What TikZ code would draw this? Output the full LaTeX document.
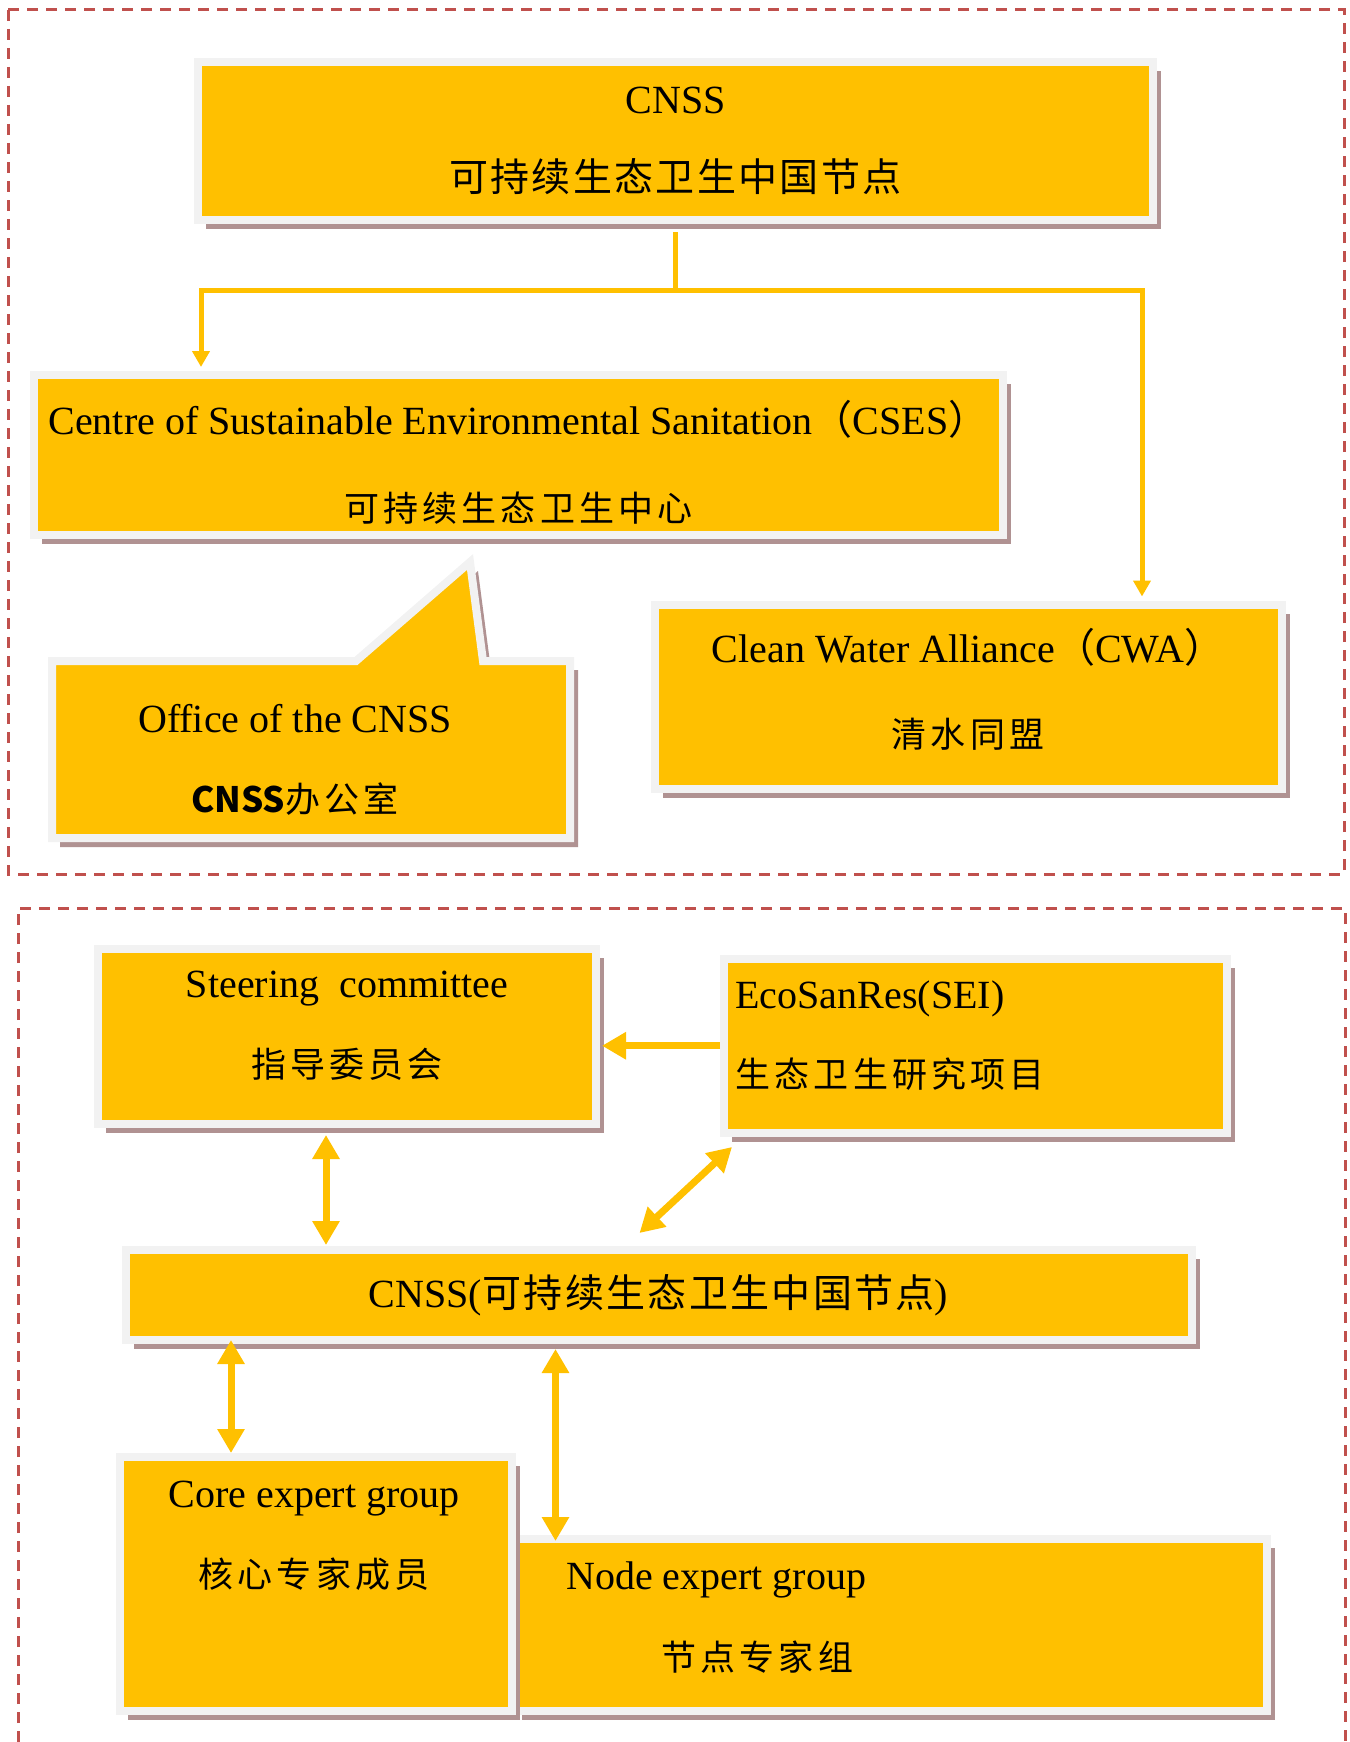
\documentclass[tikz,border=0pt]{standalone}
\usepackage{fontspec}
\setmainfont{Liberation Serif}
\newfontfamily\cjk{Noto Sans CJK SC}
\newfontfamily\cjkwide{Noto Sans CJK SC}[LetterSpace=12]
\newfontfamily\cjkbig{Noto Sans CJK SC}[LetterSpace=6]
\usetikzlibrary{arrows.meta,shadows,calc}
\definecolor{boxorange}{HTML}{FFC000}
\definecolor{boxrim}{HTML}{F2F2F2}
\definecolor{boxshadow}{RGB}{176,146,146}
\definecolor{framered}{HTML}{C0504D}
\newcommand{\zh}[1]{{\cjkwide\fontsize{35pt}{40pt}\selectfont #1}}
\newcommand{\zhbig}[1]{{\cjkbig\fontsize{39pt}{42pt}\selectfont #1}}
\newcommand{\padabove}[1]{\rule{0pt}{#1}}
\newcommand{\padbelow}[1]{\rule[-#1]{0pt}{#1}}
\begin{document}
\begin{tikzpicture}[x=1pt,y=-1pt,
  box/.style={fill=boxorange,draw=boxrim,line width=8pt,inner sep=0pt,align=center,
    font=\fontsize{40pt}{46pt}\selectfont,
    drop shadow={shadow xshift=8pt,shadow yshift=-9pt,fill=boxshadow,opacity=1}},
  txt/.style={inner sep=0pt,align=center,font=\fontsize{40pt}{46pt}\selectfont},
  trunk/.style={draw=boxorange,line width=5pt},
  link/.style={trunk,-{Triangle[length=16pt,width=17pt]}},
  fat/.style={draw=boxorange,line width=7pt},
  oneway/.style={fat,-{Triangle[length=24pt,width=26pt]}},
  duplex/.style={fat,{Triangle[length=24pt,width=26pt]}-{Triangle[length=24pt,width=26pt]}},
  frame/.style={draw=framered,line width=3pt,dash pattern=on 11pt off 8pt}]
	\useasboundingbox (0,0) rectangle (1349,1742);
	\draw[frame] (8,10) rectangle (1344,874);
	\draw[frame] (18,1742) -- (18,908) -- (1345,908) -- (1345,1742);

	\node[box,minimum width=955pt,minimum height=158pt] (cnss) at (675.5,141) {CNSS\\[32pt]\zhbig{可持续生态卫生中国节点}};
	\node[box,minimum width=969pt,minimum height=160pt] (cses) at (518.5,455) {\padabove{48pt}Centre of Sustainable Environmental Sanitation{\cjk （}CSES{\cjk ）}\\[41pt]\zh{可持续生态卫生中心}};
	\node[box,minimum width=627pt,minimum height=184pt] (cwa) at (968,696.5) {Clean Water Alliance{\cjk （}CWA{\cjk ）}\\[39.5pt]\zh{清水同盟}\padbelow{17pt}};
	\path[box] (52,661) -- (356,661) -- (470,562) -- (483,661) -- (570,661) -- (570,838) -- (52,838) -- cycle;
	\node[txt] (office) at (295,760) {Office of the CNSS\\[34pt]{\cjk\bfseries\fontsize{35pt}{40pt}\selectfont CNSS}\zh{办公室}};

	\draw[trunk] ([yshift=-8pt]cnss.south) -- ++(0,58) coordinate (fork);
	\draw[link] (fork) -| ([xshift=171pt,yshift=4pt]cses.north west);
	\draw[link] (fork) -| ([xshift=174pt,yshift=4pt]cwa.north);

	\node[box,minimum width=498pt,minimum height=175pt] (steer) at (347,1036.5) {Steering\ \ committee\\[34pt]\zh{指导委员会}\padbelow{24pt}};
	\node[box,minimum width=503pt,minimum height=174.5pt,text width=480pt,align=left] (eco) at (975.5,1045.75) {EcoSanRes(SEI)\\[33pt]\zh{生态卫生研究项目}\padbelow{23pt}};
	\node[box,minimum width=1066pt,minimum height=90pt] (cnss2) at (658.5,1295) {CNSS(\zhbig{可持续生态卫生中国节点})};
	\node[box,minimum width=753pt,minimum height=172pt] (nodegrp) at (890.5,1625) {};
	\node[box,minimum width=392pt,minimum height=254pt] (coregrp) at (316,1584) {};
	\node[txt] (coretxt) at (314,1536) {Core expert group\\[34pt]\zh{核心专家成员}};
	\node[txt,align=left,anchor=west] (nodetxt) at (566,1618) {Node expert group\\[35pt]\hspace*{95pt}\zh{节点专家组}};

	\draw[oneway] (eco.west) -- ($(eco.west -| steer.east)+(2,0)$);
	\draw[duplex] ($(steer.south)+(-21,7)$) -- ($(steer.south |- cnss2.north)+(-21,-1)$);
	\draw[duplex] ($(cnss2.north)+(-19,-13)$) -- ($(eco.south west)+(12,10)$);
	\draw[duplex] ($(coregrp.north |- cnss2.south)+(-85,-4)$) -- ($(coregrp.north)+(-85,0)$);
	\draw[duplex] ($(nodegrp.north |- cnss2.south)+(-335,5)$) -- ($(nodegrp.north)+(-335,6)$);
\end{tikzpicture}
\end{document}
